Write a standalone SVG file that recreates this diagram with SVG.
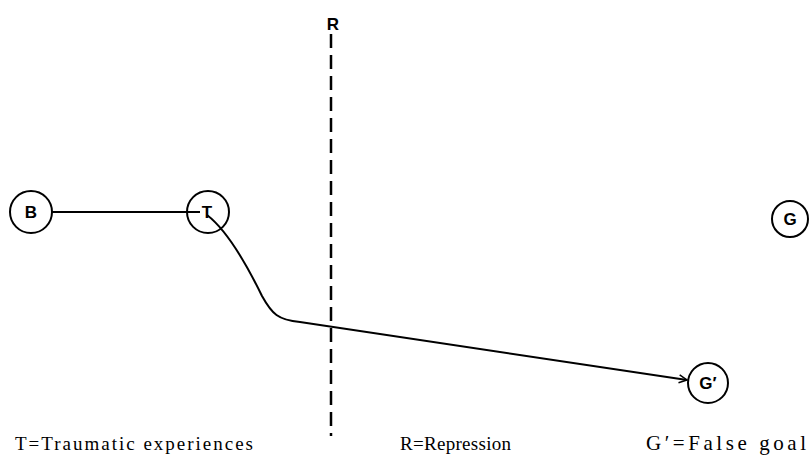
<svg xmlns="http://www.w3.org/2000/svg" width="809" height="455" viewBox="0 0 809 455">
<style>
.node{fill:#fff;stroke:#000;stroke-width:2}
.lbl{font-family:"Liberation Sans",Arial,sans-serif;font-weight:bold;font-size:17px;text-anchor:middle;fill:#000}
.cap{font-family:"Liberation Serif","Times New Roman",serif;font-size:19px;fill:#000}
.conn{fill:none;stroke:#000;stroke-width:2}
</style>
<defs>
<marker id="arr" viewBox="0 0 10 10" refX="9" refY="5" markerWidth="10" markerHeight="10" orient="auto" markerUnits="userSpaceOnUse">
<path d="M1,1 L9,5 L1,9" fill="none" stroke="#000" stroke-width="1.5"/>
</marker>
</defs>
<rect width="809" height="455" fill="#fff"/>
<g id="R">
<line x1="331" y1="34" x2="331" y2="436" stroke="#000" stroke-width="2.5" stroke-dasharray="14,7"/>
<text class="lbl" x="333" y="30">R</text>
</g>
<g id="connectors">
<line class="conn" x1="52" y1="212" x2="200" y2="212"/>
<path class="conn" d="M207,215 C224,228 242,255 262,296 C272,314 278,320 300,322 L687,380" marker-end="url(#arr)"/>
</g>
<g id="B"><circle class="node" cx="31" cy="212" r="21"/><text class="lbl" x="31" y="218">B</text></g>
<g id="T"><circle class="node" cx="208" cy="212" r="21" style="fill:none"/><text class="lbl" x="207" y="218">T</text></g>
<g id="G"><circle class="node" cx="790" cy="219" r="18"/><text class="lbl" x="790" y="225">G</text></g>
<g id="Gp"><circle class="node" cx="708" cy="383" r="20"/><text class="lbl" x="708" y="389">G′</text></g>
<g id="legend">
<text class="cap" x="15" y="450" textLength="238" lengthAdjust="spacing">T=Traumatic  experiences</text>
<text class="cap" x="400" y="450" textLength="111" lengthAdjust="spacing">R=Repression</text>
<text class="cap" x="646" y="450" textLength="160" lengthAdjust="spacing" style="font-size:21px">G′=False  goal</text>
</g>
</svg>
